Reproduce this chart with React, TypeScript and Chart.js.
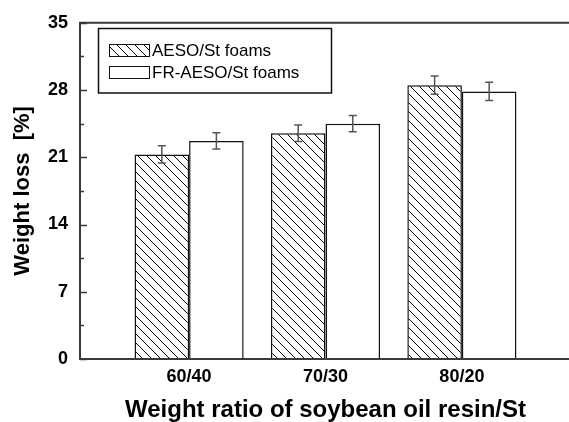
import React, { useEffect, useRef } from 'react';
import { Chart, registerables } from 'chart.js';

Chart.register(...registerables);

const categories = ['60/40', '70/30', '80/20'];
const seriesLabels = ['AESO/St foams', 'FR-AESO/St foams'];
const aesoValues = [21.3, 23.5, 28.5];
const aesoErrors = [0.9, 0.85, 0.95];
const frValues = [22.7, 24.5, 27.85];
const frErrors = [0.85, 0.85, 0.95];
const yMajorTicks = [0, 7, 14, 21, 28, 35];
const yMinorTicks = [3.5, 10.5, 17.5, 24.5, 31.5];
const xTitle = 'Weight ratio of soybean oil resin/St';
const yTitle = 'Weight loss  [%]';

const FONT = 'Arial, "Liberation Sans", sans-serif';

function makeHatch(ctx: CanvasRenderingContext2D) {
  const s = 9;
  const c = document.createElement('canvas');
  c.width = s;
  c.height = s;
  const g = c.getContext('2d') as CanvasRenderingContext2D;
  g.fillStyle = '#fff';
  g.fillRect(0, 0, s, s);
  g.strokeStyle = '#000';
  g.lineWidth = 1;
  g.beginPath();
  for (const o of [-s, 0, s]) {
    g.moveTo(o, 0);
    g.lineTo(o + s, s);
  }
  g.stroke();
  return ctx.createPattern(c, 'repeat') as CanvasPattern;
}

export default function App() {
  const ref = useRef<HTMLCanvasElement | null>(null);

  useEffect(() => {
    document.body.style.overflow = 'hidden';
    document.documentElement.style.overflow = 'hidden';
    const canvas = ref.current!;
    const ctx0 = canvas.getContext('2d') as CanvasRenderingContext2D;
    const hatch = makeHatch(ctx0);
    const errors = [aesoErrors, frErrors];

    const decor = {
      id: 'decor',
      afterDatasetsDraw(chart: any) {
        const ctx = chart.ctx as CanvasRenderingContext2D;
        const ys = chart.scales.y;
        chart.data.datasets.forEach((ds: any, di: number) => {
          const meta = chart.getDatasetMeta(di);
          meta.data.forEach((bar: any, i: number) => {
            const v = ds.data[i].y;
            const e = errors[di][i];
            const x = bar.x;
            const y1 = ys.getPixelForValue(v + e);
            const y2 = ys.getPixelForValue(v - e);
            ctx.save();
            ctx.strokeStyle = '#555';
            ctx.lineWidth = 1.5;
            ctx.beginPath();
            ctx.moveTo(x, y1);
            ctx.lineTo(x, y2);
            ctx.moveTo(x - 4, y1);
            ctx.lineTo(x + 4, y1);
            ctx.moveTo(x - 4, y2);
            ctx.lineTo(x + 4, y2);
            ctx.stroke();
            ctx.restore();
          });
        });
      },
      afterDraw(chart: any) {
        const ctx = chart.ctx as CanvasRenderingContext2D;
        const { left, right, top, bottom } = chart.chartArea;
        const ys = chart.scales.y;
        ctx.save();
        // frame
        ctx.strokeStyle = '#3a3a3a';
        ctx.lineWidth = 2;
        ctx.beginPath();
        ctx.moveTo(right + 2, top);
        ctx.lineTo(left, top);
        ctx.lineTo(left, bottom);
        ctx.lineTo(right + 2, bottom);
        ctx.stroke();
        // inward ticks
        ctx.lineWidth = 1.5;
        ctx.beginPath();
        yMajorTicks.forEach((t) => {
          const p = Math.round(ys.getPixelForValue(t)) + 0.5;
          ctx.moveTo(left, p);
          ctx.lineTo(left + 7, p);
        });
        yMinorTicks.forEach((t) => {
          const p = Math.round(ys.getPixelForValue(t)) + 0.5;
          ctx.moveTo(left, p);
          ctx.lineTo(left + 4, p);
        });
        ctx.stroke();
        // legend
        ctx.fillStyle = '#fff';
        ctx.fillRect(98.5, 28.5, 233, 64.5);
        ctx.strokeStyle = '#111';
        ctx.lineWidth = 1.5;
        ctx.strokeRect(98.5, 28.5, 233, 64.5);
        ctx.lineWidth = 1;
        ctx.fillStyle = hatch;
        ctx.fillRect(109.5, 44.5, 40, 12);
        ctx.strokeRect(109.5, 44.5, 40, 12);
        ctx.fillStyle = '#fff';
        ctx.fillRect(109.5, 66.5, 40, 12);
        ctx.strokeRect(109.5, 66.5, 40, 12);
        ctx.fillStyle = '#000';
        ctx.font = `17px ${FONT}`;
        ctx.textBaseline = 'middle';
        ctx.textAlign = 'left';
        ctx.fillText(seriesLabels[0], 152, 51);
        ctx.fillText(seriesLabels[1], 152, 73);
        ctx.restore();
      },
    };

    const chart = new Chart(canvas, {
      type: 'bar',
      data: {
        datasets: [
          {
            label: seriesLabels[0],
            data: aesoValues.map((v, i) => ({ x: i + 1, y: v })),
            backgroundColor: hatch,
            borderColor: '#111',
            borderWidth: 1.5,
          },
          {
            label: seriesLabels[1],
            data: frValues.map((v, i) => ({ x: i + 1, y: v })),
            backgroundColor: '#fff',
            borderColor: '#111',
            borderWidth: 1.5,
          },
        ],
      },
      options: {
        responsive: false,
        devicePixelRatio: 1,
        animation: false,
        layout: { padding: { left: 0, top: 20, right: 9, bottom: 0 } },
        datasets: { bar: { categoryPercentage: 0.8, barPercentage: 1.0 } },
        plugins: { legend: { display: false }, tooltip: { enabled: false } },
        scales: {
          x: {
            type: 'linear',
            offset: false,
            min: 0.2,
            max: 3.8,
            grid: { display: false, drawTicks: false, offset: false },
            border: { display: false },
            afterBuildTicks: (s: any) => {
              s.ticks = categories.map((_, i) => ({ value: i + 1 }));
            },
            afterFit: (s: any) => {
              s.height = 63;
            },
            ticks: {
              autoSkip: false,
              maxRotation: 0,
              padding: 7,
              color: '#000',
              font: { family: FONT, size: 18, weight: 'bold' },
              callback: (v: any) => categories[Number(v) - 1] ?? '',
            },
            title: {
              display: true,
              text: xTitle,
              color: '#000',
              font: { family: FONT, size: 24, weight: 'bold' },
              padding: { top: 0, bottom: -3 },
            },
          },
          y: {
            min: 0,
            max: 35,
            grid: { display: false, drawTicks: false },
            border: { display: false },
            afterBuildTicks: (s: any) => {
              s.ticks = yMajorTicks.map((v) => ({ value: v }));
            },
            afterFit: (s: any) => {
              s.width = 80;
            },
            ticks: {
              padding: 12,
              color: '#000',
              font: { family: FONT, size: 18, weight: 'bold' },
            },
            title: {
              display: true,
              text: yTitle,
              color: '#000',
              font: { family: FONT, size: 22, weight: 'bold' },
              padding: { top: 10, bottom: 0 },
            },
          },
        },
      } as any,
      plugins: [decor],
    });
    return () => chart.destroy();
  }, []);

  return (
    <div style={{ position: 'absolute', left: 0, top: 0, width: 580, height: 422, overflow: 'hidden', background: '#fff' }}>
      <canvas ref={ref} width={580} height={422} style={{ width: 580, height: 422, display: 'block' }} />
    </div>
  );
}
